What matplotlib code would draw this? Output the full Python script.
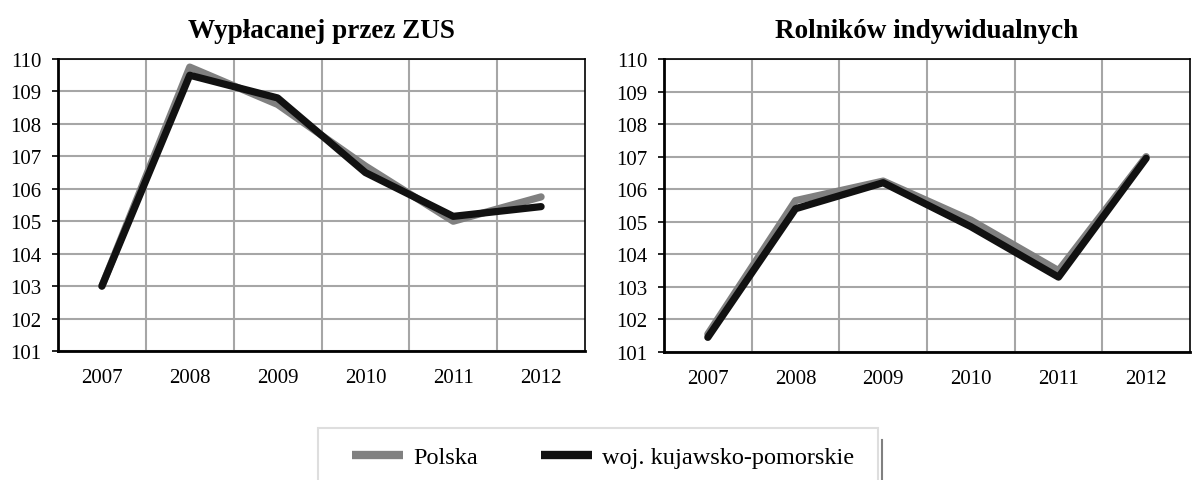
import numpy as np
import matplotlib.pyplot as plt
from matplotlib.patches import Rectangle
from matplotlib.lines import Line2D

plt.rcParams['font.family'] = ['Liberation Serif', 'DejaVu Serif']

years = ['2007', '2008', '2009', '2010', '2011', '2012']

# Wypłacanej przez ZUS
zus_polska = [103.0, 109.75, 108.6, 106.7, 105.0, 105.75]
zus_kuj = [103.0, 109.5, 108.8, 106.5, 105.15, 105.45]

# Rolników indywidualnych
rol_polska = [101.55, 105.65, 106.25, 105.05, 103.5, 107.0]
rol_kuj = [101.45, 105.4, 106.2, 104.85, 103.3, 106.95]

titles = ['Wypłacanej przez ZUS', 'Rolników indywidualnych']
series = [(zus_polska, zus_kuj), (rol_polska, rol_kuj)]

W, H = 1195, 481
fig = plt.figure(figsize=(W / 100, H / 100), dpi=100)
axes = [fig.add_axes([58/W, 1-352/H, 527/W, 292/H]),
        fig.add_axes([664/W, 1-353/H, 526/W, 293/H])]

x = np.arange(len(years))
for ax, title, (pol, kuj) in zip(axes, titles, series):
    ax.plot(x, pol, color='#808080', lw=5.2, solid_capstyle='round', label='Polska')
    ax.plot(x, kuj, color='#111111', lw=5.2, solid_capstyle='round', label='woj. kujawsko-pomorskie')
    ax.set_xlim(-0.5, 5.5)
    ax.set_ylim(101, 110)
    ax.set_yticks(range(101, 111))
    ax.set_xticks(x)
    ax.set_xticklabels(years)
    ax.set_xticks(np.arange(0.5, 5.5, 1), minor=True)
    ax.grid(True, axis='y', color='#a6a6a6', lw=1.5)
    ax.grid(True, axis='x', which='minor', color='#a6a6a6', lw=1.5)
    ax.set_axisbelow(True)
    ax.tick_params(axis='both', which='both', length=0, labelsize=15)
    ax.tick_params(axis='y', which='major', length=4, width=1.2, color='black', pad=8)
    ax.tick_params(axis='x', pad=12)
    for s in ax.spines.values():
        s.set_color('black')
        s.set_linewidth(1.2)
    ax.spines['left'].set_linewidth(2)
    ax.spines['bottom'].set_linewidth(2)
    ax.set_title(title, fontsize=19.5, fontweight='bold', pad=16)

handles, labels = axes[0].get_legend_handles_labels()
handles = [Line2D([], [], color=h.get_color(), lw=6, solid_capstyle='butt') for h in handles]
leg = fig.legend(handles, labels, loc='center', bbox_to_anchor=(603/W, 1-458/H),
                 ncol=2, fontsize=17.5, frameon=False,
                 handlelength=2.1, handletextpad=0.4, columnspacing=2.6)

# legend box (cut off at the bottom of the image)
fig.add_artist(Rectangle((318/W, -0.05), (878-318)/W, 0.05 + 1-429/H,
                         transform=fig.transFigure, fill=False,
                         edgecolor='#dedede', lw=1.5))
fig.add_artist(Line2D([882/W, 882/W], [0, 1-441/H], transform=fig.transFigure,
                      color='#808080', lw=1.5))

fig.savefig('out.png', dpi=100)
